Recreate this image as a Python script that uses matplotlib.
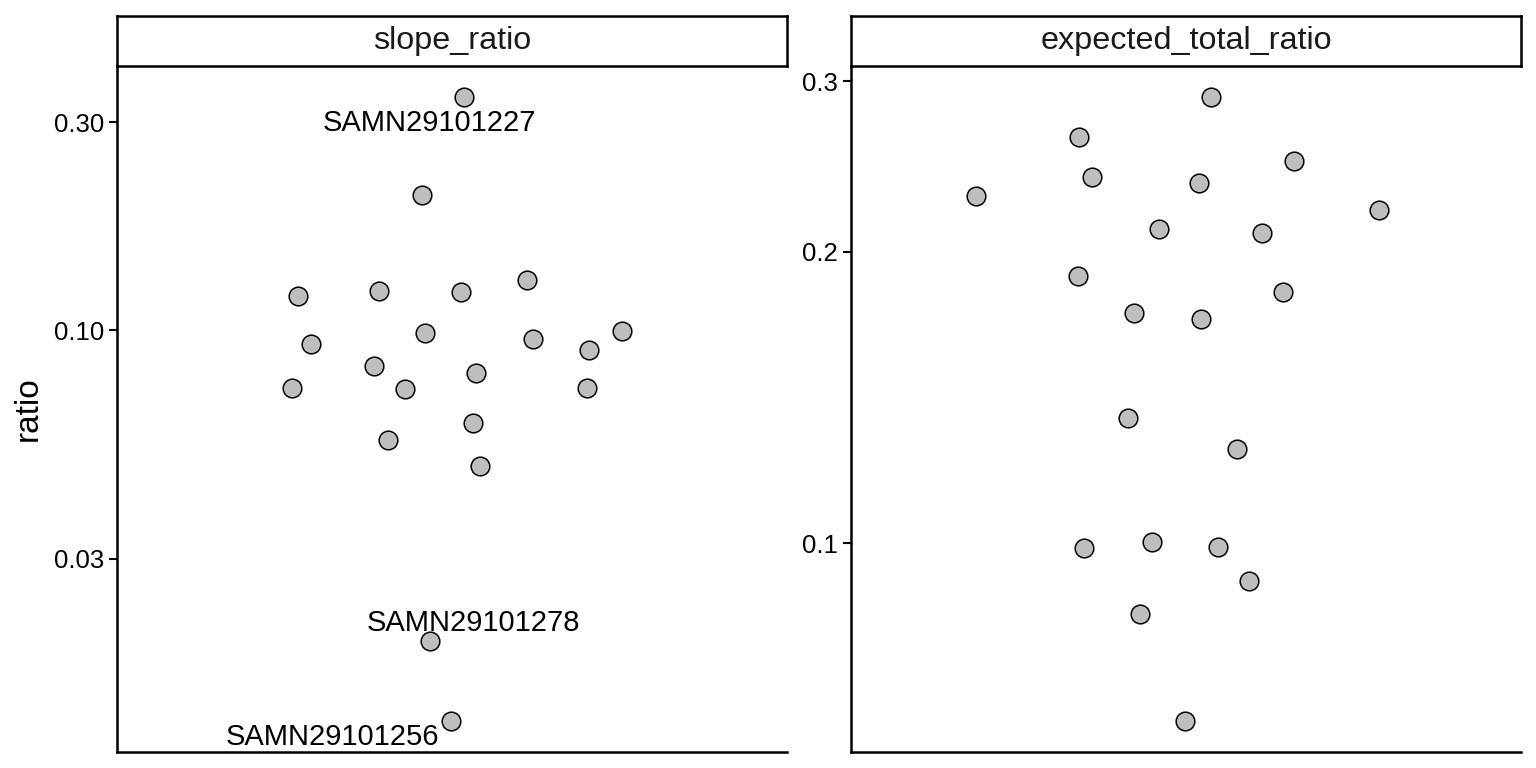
import numpy as np
import matplotlib.pyplot as plt

plt.rcParams['font.family'] = ['Liberation Sans', 'DejaVu Sans']

# slope_ratio panel: jitter offsets (x) and ratio values (y)
slope_x = [0.021, -0.054, -0.276, -0.131, 0.016, 0.134, -0.253, -0.048, 0.145, 0.245, 0.304,
           -0.140, 0.043, -0.287, -0.084, 0.242, 0.038, -0.115, 0.050, -0.039, -0.002]
slope_y = [0.342, 0.204, 0.1197, 0.1229, 0.1222, 0.1302, 0.0929, 0.0984, 0.0954, 0.0900, 0.0995,
           0.0827, 0.0797, 0.0736, 0.0732, 0.0736, 0.0612, 0.0562, 0.0490, 0.01945, 0.01275]
slope_ids = ['SAMN29101227', '', '', '', '', '', '', '', '', '', '',
             '', '', '', '', '', '', '', '', 'SAMN29101278', 'SAMN29101256']

# expected_total_ratio panel
exp_x = [0.045, -0.192, 0.193, -0.168, 0.023, -0.376, 0.346, -0.048, 0.136, -0.193, 0.174,
         -0.093, 0.027, -0.104, 0.091, -0.061, -0.183, 0.057, 0.113, -0.082, -0.002]
exp_y = [0.289, 0.2627, 0.2481, 0.2388, 0.2355, 0.2283, 0.2208, 0.2111, 0.2091, 0.1887, 0.1817,
         0.1728, 0.1704, 0.1346, 0.1251, 0.1002, 0.0988, 0.0991, 0.0914, 0.0845, 0.0655]

slope_ticks = [0.03, 0.10, 0.30]
slope_ticklabels = ['0.03', '0.10', '0.30']
exp_ticks = [0.1, 0.2, 0.3]
exp_ticklabels = ['0.1', '0.2', '0.3']

# label offsets (points) for the repelled labels
label_offsets = {'SAMN29101227': (-25, -18.5),
                 'SAMN29101278': (31, 13),
                 'SAMN29101256': (-85, -11.5)}

fig = plt.figure(figsize=(15.36, 7.68), dpi=100)

panels = [
    (117, 'slope_ratio', slope_x, slope_y, slope_ticks, slope_ticklabels, slope_ids),
    (851, 'expected_total_ratio', exp_x, exp_y, exp_ticks, exp_ticklabels, None),
]

W, H = 1536, 768
for left_px, title, xs, ys, ticks, ticklabels, ids in panels:
    ax = fig.add_axes([left_px / W, 1 - 752 / H, 670 / W, 686 / H])
    strip = fig.add_axes([left_px / W, 1 - 66 / H, 670 / W, 50 / H])

    ax.scatter(xs, ys, s=180, facecolor='#BEBEBE', edgecolor='black', linewidth=1.1, zorder=3)
    ax.set_yscale('log')
    lo, hi = np.log10(min(ys)), np.log10(max(ys))
    pad = 0.05 * (hi - lo)
    ax.set_ylim(10 ** (lo - pad), 10 ** (hi + pad))
    ax.set_xlim(-0.6, 0.6)
    ax.set_yticks(ticks)
    ax.set_yticklabels(ticklabels)
    ax.yaxis.set_minor_locator(plt.NullLocator())
    ax.set_xticks([])
    ax.tick_params(axis='y', labelsize=18.5, length=5.5, width=1.5, color='black', pad=4)
    for side in ['top', 'right']:
        ax.spines[side].set_visible(False)
    for side in ['left', 'bottom']:
        ax.spines[side].set_linewidth(1.8)

    if ids is not None:
        for x, y, name in zip(xs, ys, ids):
            if name:
                ax.annotate(name, (x, y), xytext=label_offsets[name], textcoords='offset points',
                            ha='center', va='center', fontsize=21, color='black')

    strip.set_xticks([])
    strip.set_yticks([])
    for sp in strip.spines.values():
        sp.set_linewidth(1.8)
    strip.text(0.5, 0.5, title, ha='center', va='center', fontsize=23.3, color='#1A1A1A',
               transform=strip.transAxes)

    if title == 'slope_ratio':
        ax.set_ylabel('ratio', fontsize=24, labelpad=7)

fig.savefig('out.png', dpi=100)
